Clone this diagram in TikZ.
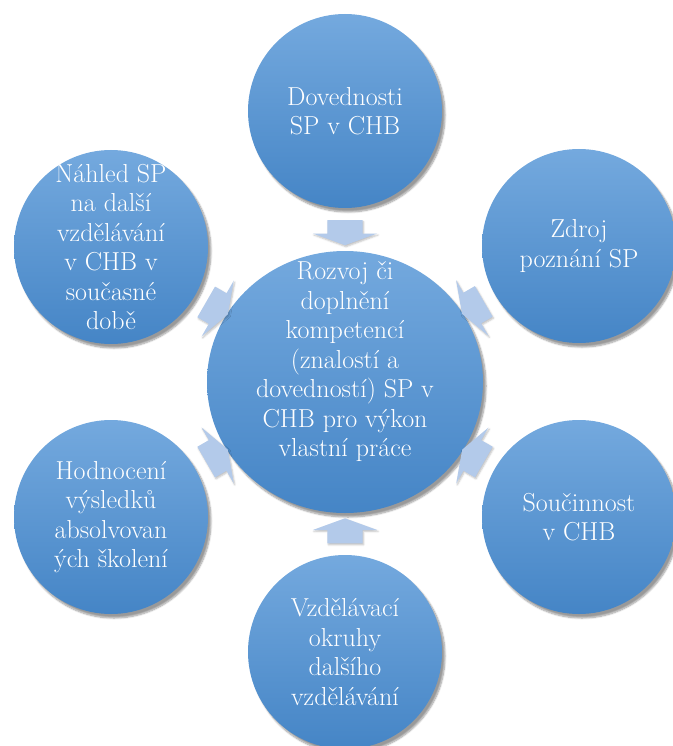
\documentclass[tikz,border=0pt]{standalone}
\usepackage{fontspec}
\setmainfont{Latin Modern Roman}
\usetikzlibrary{shapes.geometric,shapes.arrows,shadows.blur}

\definecolor{bubbletop}{HTML}{74A9DE}
\definecolor{bubblebot}{HTML}{4585C6}
\definecolor{flowfill}{HTML}{B3CAEA}

\tikzset{
  bubble/.style={circle, minimum size=194pt, inner sep=0pt,
    top color=bubbletop, bottom color=bubblebot,
    blur shadow={shadow xshift=3pt, shadow yshift=-4pt, shadow blur steps=8}},
  bubbletext/.style={text=white, align=center, font=\fontsize{26}{29.5}\selectfont},
  flow/.style={single arrow, draw=none, fill=flowfill, sloped, allow upside down,
    minimum height=25pt, minimum width=64pt, inner xsep=0pt, inner ysep=17.5pt,
    single arrow head extend=14.5pt, single arrow tip angle=140,
    blur shadow={shadow xshift=1pt, shadow yshift=-1.5pt, shadow blur steps=4, shadow opacity=25}}
}

\begin{document}
\begin{tikzpicture}[x=1pt,y=-1pt]

	\useasboundingbox (0,0) rectangle (672,746);

	% centre
	\node[bubble, ellipse, minimum width=276pt, minimum height=262pt,
		label={[bubbletext, yshift=20pt]center:Rozvoj či\\doplnění\\kompetencí\\(znalostí a\\dovedností) SP v\\CHB pro výkon\\vlastní práce}] (rozvoj) at (345,382) {};

	% outer circles
	\node[bubble, label={[bubbletext]center:Dovednosti\\SP v CHB}] (dovednosti) at (345,111) {};
	\node[bubble, label={[bubbletext]center:Zdroj\\poznání SP}] (zdroj) at (579,246) {};
	\node[bubble, label={[bubbletext]center:Součinnost\\v CHB}] (soucinnost) at (579,517) {};
	\node[bubble, label={[bubbletext]center:Vzdělávací\\okruhy\\dalšího\\vzdělávání}] (okruhy) at (345,652) {};
	\node[bubble, label={[bubbletext]center:Hodnocení\\výsledků\\absolvovan\\ých školení}] (hodnoceni) at (111,517) {};
	\node[bubble, label={[bubbletext]center:Náhled SP\\na další\\vzdělávání\\v CHB v\\současné\\době}] (nahled) at (111,247) {};

	% arrows to the centre
	\path (dovednosti) -- node[flow, pos=0.5] (s-dovednosti) {} (rozvoj);
	\path (zdroj) -- node[flow, pos=0.6] (s-zdroj) {} (rozvoj);
	\path (soucinnost) -- node[flow, pos=0.6] (s-soucinnost) {} (rozvoj);
	\path (okruhy) -- node[flow, pos=0.5] (s-okruhy) {} (rozvoj);
	\path (hodnoceni) -- node[flow, pos=0.6] (s-hodnoceni) {} (rozvoj);
	\path (nahled) -- node[flow, pos=0.6] (s-nahled) {} (rozvoj);

\end{tikzpicture}
\end{document}
